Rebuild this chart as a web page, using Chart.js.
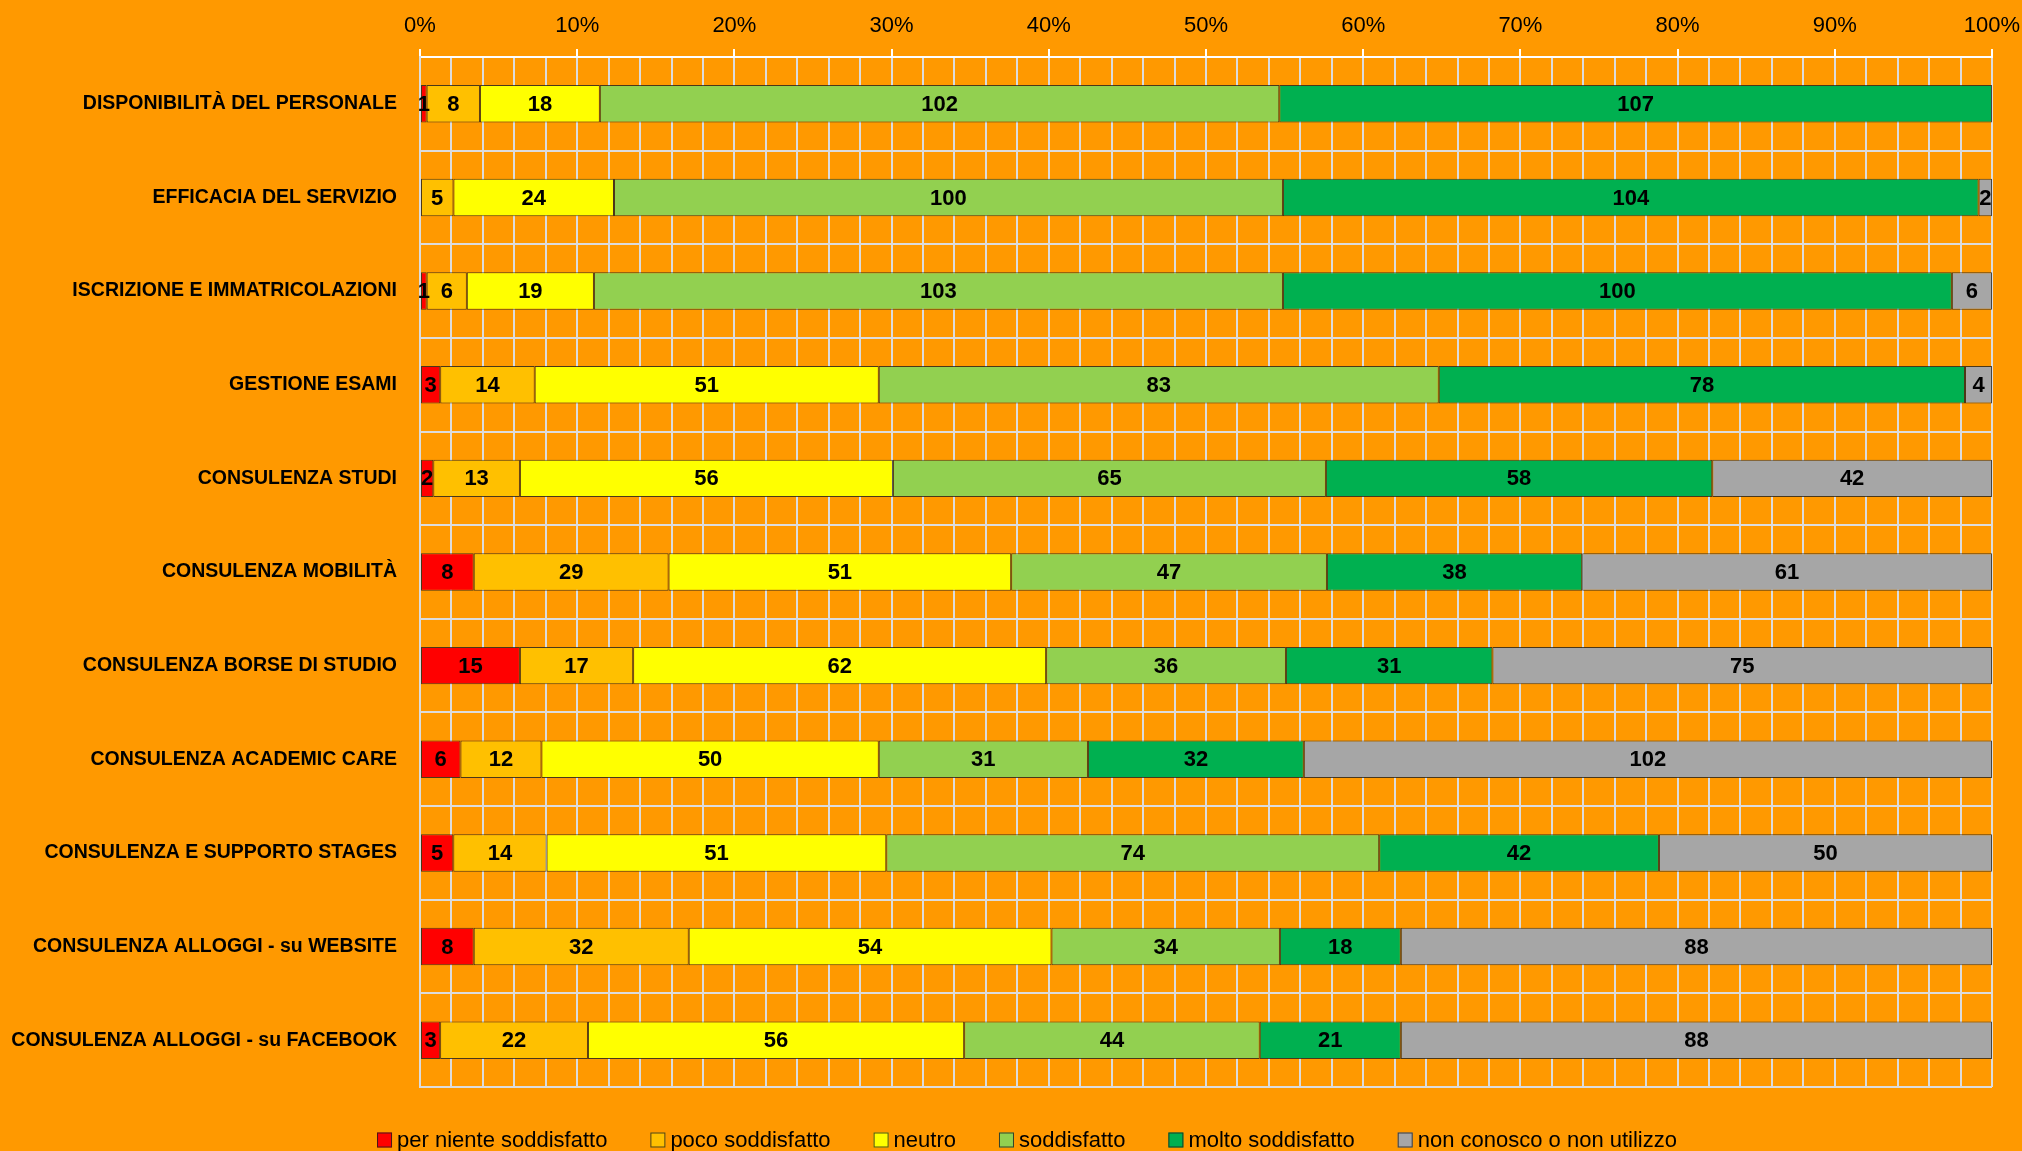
<!DOCTYPE html>
<html>
<head>
<meta charset="utf-8">
<script src="https://cdn.jsdelivr.net/npm/chart.js@4.4.1/dist/chart.umd.min.js"></script>
<style>
  html, body { margin: 0; padding: 0; background: #FF9900; }
  canvas { display: block; }
</style>
</head>
<body>
<canvas id="c" width="2022" height="1151"></canvas>
<script>
const categories = [
  'DISPONIBILITÀ DEL PERSONALE',
  'EFFICACIA DEL SERVIZIO',
  'ISCRIZIONE E IMMATRICOLAZIONI',
  'GESTIONE ESAMI',
  'CONSULENZA STUDI',
  'CONSULENZA MOBILITÀ',
  'CONSULENZA BORSE DI STUDIO',
  'CONSULENZA ACADEMIC CARE',
  'CONSULENZA E SUPPORTO STAGES',
  'CONSULENZA ALLOGGI - su WEBSITE',
  'CONSULENZA ALLOGGI - su FACEBOOK'
];
const seriesNames = [
  'per niente soddisfatto',
  'poco soddisfatto',
  'neutro',
  'soddisfatto',
  'molto soddisfatto',
  'non conosco o non utilizzo'
];
const perNiente   = [1, 0, 1, 3, 2, 8, 15, 6, 5, 8, 3];
const poco        = [8, 5, 6, 14, 13, 29, 17, 12, 14, 32, 22];
const neutro      = [18, 24, 19, 51, 56, 51, 62, 50, 51, 54, 56];
const soddisfatto = [102, 100, 103, 83, 65, 47, 36, 31, 74, 34, 44];
const molto       = [107, 104, 100, 78, 58, 38, 31, 32, 42, 18, 21];
const nonConosco  = [0, 2, 6, 4, 42, 61, 75, 102, 50, 88, 88];
const xTickValues = [0, 10, 20, 30, 40, 50, 60, 70, 80, 90, 100];

const seriesCounts = [perNiente, poco, neutro, soddisfatto, molto, nonConosco];
const colors = ['#FF0000', '#FFC000', '#FFFF00', '#92D050', '#00B050', '#A6A6A6'];

const totals = categories.map((_, i) => seriesCounts.reduce((s, arr) => s + arr[i], 0));

const datasets = seriesCounts.map((arr, k) => ({
  label: seriesNames[k],
  data: arr.map((v, i) => v / totals[i] * 100),
  counts: arr,
  backgroundColor: colors[k],
  borderColor: 'rgba(30,30,30,0.8)',
  borderWidth: 1,
  borderSkipped: false,
  barPercentage: 0.4,
  categoryPercentage: 1.0
}));

const FONT = "'Liberation Sans', Arial, sans-serif";

const bgPlugin = {
  id: 'bg',
  beforeDraw(chart) {
    const ctx = chart.ctx;
    ctx.save();
    ctx.fillStyle = '#FF9900';
    ctx.fillRect(0, 0, chart.width, chart.height);
    ctx.restore();
  }
};

const labelPlugin = {
  id: 'segLabels',
  afterDatasetsDraw(chart) {
    const ctx = chart.ctx;
    ctx.save();
    ctx.font = 'bold 22px ' + FONT;
    ctx.fillStyle = '#000000';
    ctx.textAlign = 'center';
    ctx.textBaseline = 'middle';
    chart.data.datasets.forEach((ds, di) => {
      const meta = chart.getDatasetMeta(di);
      meta.data.forEach((el, i) => {
        const c = ds.counts[i];
        if (!c) return;
        const p = el.getCenterPoint();
        ctx.fillText(String(c), p.x, p.y + 1);
      });
    });
    ctx.restore();
  }
};

const legendPlugin = {
  id: 'customLegend',
  afterDraw(chart) {
    const ctx = chart.ctx;
    ctx.save();
    ctx.font = '22px ' + FONT;
    const box = 15, gapText = 5, gapItem = 43;
    const widths = seriesNames.map(t => box + gapText + ctx.measureText(t).width);
    const total = widths.reduce((a, b) => a + b, 0) + gapItem * (widths.length - 1);
    let x = 1027 - total / 2;
    const cy = 1140;
    ctx.textBaseline = 'middle';
    ctx.textAlign = 'left';
    seriesNames.forEach((t, k) => {
      ctx.fillStyle = colors[k];
      ctx.fillRect(x, cy - box / 2, box, box);
      ctx.strokeStyle = 'rgba(30,30,30,0.8)';
      ctx.lineWidth = 1;
      ctx.strokeRect(x + 0.5, cy - box / 2 + 0.5, box - 1, box - 1);
      ctx.fillStyle = '#000000';
      ctx.fillText(t, x + box + gapText, cy + 1);
      x += widths[k] + gapItem;
    });
    ctx.restore();
  }
};

new Chart(document.getElementById('c'), {
  type: 'bar',
  data: { labels: categories, datasets },
  plugins: [bgPlugin, labelPlugin, legendPlugin],
  options: {
    indexAxis: 'y',
    responsive: false,
    animation: false,
    devicePixelRatio: 1,
    layout: { padding: { left: 0, right: 30, top: 0, bottom: 64 } },
    plugins: {
      legend: { display: false },
      tooltip: { enabled: false }
    },
    scales: {
      x: {
        position: 'top',
        stacked: true,
        min: 0,
        max: 100,
        afterFit(scale) { scale.height = 57; scale.paddingRight = 0; scale.paddingLeft = 0; },
        afterBuildTicks(scale) {
          const t = [];
          for (let v = 0; v <= 100; v += 2) t.push({ value: v });
          scale.ticks = t;
        },
        ticks: {
          autoSkip: false,
          maxRotation: 0,
          padding: 10,
          color: '#000000',
          font: { family: FONT, size: 22 },
          callback: (v) => xTickValues.includes(v) ? v + '%' : ''
        },
        grid: {
          color: '#DCDCDC',
          lineWidth: 2,
          tickLength: 8,
          tickColor: (ctx) => (ctx.tick && xTickValues.includes(ctx.tick.value)) ? '#FFFFFF' : 'rgba(0,0,0,0)',
          tickWidth: 2
        },
        border: { display: true, color: '#FFFFFF', width: 2 }
      },
      y: {
        stacked: true,
        afterFit(scale) { scale.width = 420; },
        ticks: {
          padding: 23,
          color: '#000000',
          font: { family: FONT, size: 19.5, weight: 'bold' }
        },
        grid: {
          color: '#DCDCDC',
          lineWidth: 2,
          drawTicks: false
        },
        border: { display: true, color: '#DCDCDC', width: 2 }
      }
    }
  }
});
</script>
</body>
</html>
